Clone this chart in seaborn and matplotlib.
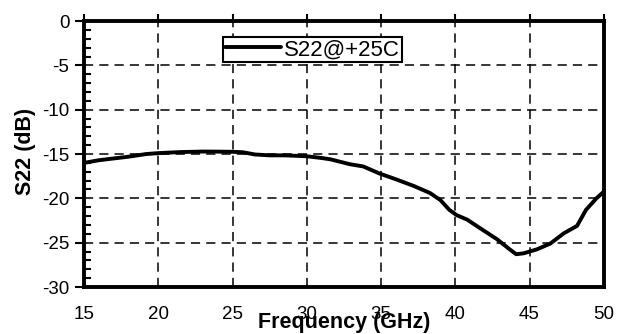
import matplotlib
matplotlib.use("Agg")
import matplotlib.pyplot as plt
from matplotlib.ticker import MultipleLocator
import numpy as np
import pandas as pd
import seaborn as sns

# Output return loss S22 versus frequency at +25C
freq_ghz = [15.0, 16.0, 17.0, 18.0, 19.2, 20.0, 21.5, 23.0, 24.0, 25.0, 25.7, 26.5,
            27.5, 28.5, 30.0, 31.0, 31.6, 32.9, 33.8, 34.9, 36.0, 37.2, 38.3, 39.0,
            39.6, 40.1, 40.8, 41.7, 42.8, 43.7, 44.1, 44.6, 45.5, 46.4, 47.3, 48.2,
            48.8, 49.5, 50.0]
s22_db = [-16.0, -15.7, -15.5, -15.3, -15.0, -14.9, -14.78, -14.72, -14.73, -14.75, -14.8, -15.05,
          -15.15, -15.15, -15.25, -15.45, -15.6, -16.15, -16.4, -17.2, -17.85, -18.6, -19.4, -20.2,
          -21.3, -21.9, -22.4, -23.4, -24.6, -25.8, -26.3, -26.2, -25.75, -25.1, -23.95, -23.1,
          -21.3, -20.0, -19.25]
series_label = "S22@+25C"
x_ticks = [15, 20, 25, 30, 35, 40, 45, 50]
y_ticks = [0, -5, -10, -15, -20, -25, -30]

df = pd.DataFrame({"Frequency (GHz)": freq_ghz, "S22 (dB)": s22_db, "series": series_label})

sns.set_style("white")
plt.rcParams["font.family"] = ["Liberation Sans", "DejaVu Sans"]
plt.rcParams["axes.unicode_minus"] = False
plt.rcParams["text.color"] = "black"
plt.rcParams["axes.labelcolor"] = "black"

fig = plt.figure(figsize=(6.27, 3.34), dpi=100)
ax = fig.add_axes([0.134, 0.1407, 0.829, 0.7963])

sns.lineplot(data=df, x="Frequency (GHz)", y="S22 (dB)", hue="series",
             palette=["black"], linewidth=2.8, ax=ax, sort=False, zorder=3)

ax.set_xlim(15, 50)
ax.set_ylim(-30, 0)
ax.set_xticks(x_ticks)
ax.set_yticks(y_ticks)
ax.yaxis.set_minor_locator(MultipleLocator(1))

ax.grid(True, which="major", color="black", linestyle=(0, (6, 4)), linewidth=1.1)
ax.set_axisbelow(True)

for sp in ax.spines.values():
    sp.set_color("black")
    sp.set_linewidth(2.8)
    sp.set_visible(True)

ax.tick_params(axis="x", which="major", bottom=False, top=True, labelbottom=True,
               direction="out", length=5, width=1.5, pad=9, labelsize=13.5,
               colors="black", labelcolor="black")
ax.tick_params(axis="y", which="major", left=True, right=False, direction="out",
               length=6.5, width=1.5, pad=4, labelsize=13.5,
               colors="black", labelcolor="black")
ax.tick_params(axis="y", which="minor", left=True, right=False, direction="in",
               length=5, width=1.5, colors="black")

ax.set_xlabel("Frequency (GHz)", fontsize=15.5, fontweight="bold", color="black")
ax.xaxis.set_label_coords(0.5, -0.135, transform=ax.transAxes)
ax.xaxis.label.set_verticalalignment("center")
ax.set_ylabel("S22 (dB)", fontsize=15.5, fontweight="bold", color="black")
ax.yaxis.set_label_coords(-0.113, 0.51)
ax.yaxis.label.set_verticalalignment("center")

leg = ax.legend(loc="upper left", bbox_to_anchor=(0.267, 0.94), borderaxespad=0,
                fontsize=16, frameon=True, fancybox=False, framealpha=1,
                edgecolor="black", handlelength=2.5, handletextpad=0.15,
                borderpad=0.1, title=None)
leg.get_frame().set_linewidth(1.5)
for t in leg.get_texts():
    t.set_color("black")

fig.savefig("out.png", dpi=100)
